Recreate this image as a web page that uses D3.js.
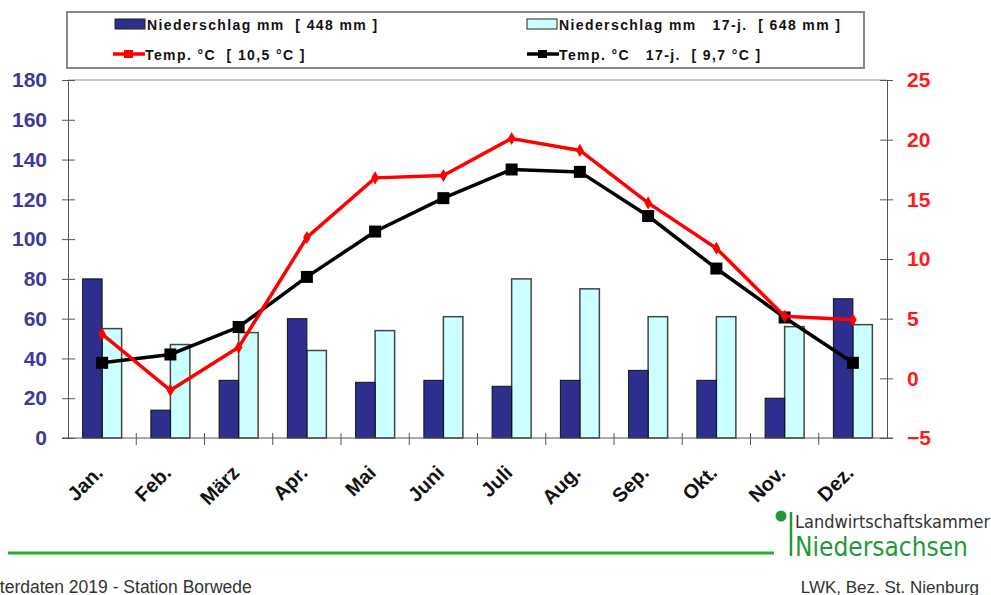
<!DOCTYPE html>
<html>
<head>
<meta charset="utf-8">
<script src="https://cdn.jsdelivr.net/npm/d3@7"></script>
<style>
    body { margin: 0; background: #fff; }
    svg { font-family: "Liberation Sans", Arial, sans-serif; }
</style>
</head>
<body>
<svg width="991" height="595"></svg>
<script>
    var months = ['Jan.', 'Feb.', 'März', 'Apr.', 'Mai', 'Juni', 'Juli', 'Aug.', 'Sep.', 'Okt.', 'Nov.', 'Dez.'];
    var rain2019 = [80, 14, 29, 60, 28, 29, 26, 29, 34, 29, 20, 70];
    var rainAvg = [55, 47, 53, 44, 54, 61, 80, 75, 61, 61, 56, 57];
    var temp2019 = [3.7, -1.0, 2.6, 11.8, 16.8, 17.0, 20.1, 19.1, 14.7, 10.9, 5.2, 4.9];
    var tempAvg = [1.3, 2.0, 4.3, 8.5, 12.3, 15.1, 17.5, 17.3, 13.6, 9.2, 5.1, 1.3];
    var rainTicks = [0, 20, 40, 60, 80, 100, 120, 140, 160, 180];
    var tempTicks = [-5, 0, 5, 10, 15, 20, 25];

(function () {
    var svg = d3.select('svg');
    var plotLeft = 68, plotRight = 887, plotTop = 80, plotBottom = 438;

    var x = d3.scaleBand().domain(months).range([plotLeft, plotRight]);
    var inner = d3.scaleBand().domain(['a', 'b']).range([0, x.bandwidth()]).paddingOuter(0.75).paddingInner(0);
    var yRain = d3.scaleLinear().domain([0, 180]).range([plotBottom, plotTop]);
    var yTemp = d3.scaleLinear().domain([-5, 25]).range([plotBottom, plotTop]);

    // plot frame top line
    svg.append('line')
        .attr('x1', plotLeft).attr('x2', plotRight).attr('y1', plotTop).attr('y2', plotTop)
        .attr('stroke', '#999').attr('stroke-width', 1);

    // bars
    var bars = svg.append('g');
    bars.selectAll('rect.avg')
        .data(rainAvg)
        .enter().append('rect')
        .attr('class', 'avg')
        .attr('x', function(d, i) { return x(months[i]) + inner('b'); })
        .attr('y', function(d) { return yRain(d); })
        .attr('width', inner.bandwidth())
        .attr('height', function(d) { return plotBottom - yRain(d); })
        .attr('fill', '#ccffff').attr('stroke', '#444').attr('stroke-width', 1.5);
    bars.selectAll('rect.cur')
        .data(rain2019)
        .enter().append('rect')
        .attr('class', 'cur')
        .attr('x', function(d, i) { return x(months[i]) + inner('a'); })
        .attr('y', function(d) { return yRain(d); })
        .attr('width', inner.bandwidth())
        .attr('height', function(d) { return plotBottom - yRain(d); })
        .attr('fill', '#2e2e8f').attr('stroke', '#111').attr('stroke-width', 1);

    // axes
    var axisLeft = svg.append('g').attr('transform', 'translate(' + plotLeft + ',0)')
        .call(d3.axisLeft(yRain).tickValues(rainTicks).tickSize(0).tickPadding(21));
    axisLeft.select('.domain').attr('stroke', '#555');
    axisLeft.selectAll('.tick').append('line')
        .attr('x1', -6).attr('x2', 7).attr('stroke', '#555');
    axisLeft.selectAll('text')
        .attr('fill', '#3b3b9c').attr('font-size', 21).attr('font-weight', 'bold');

    var axisRight = svg.append('g').attr('transform', 'translate(' + plotRight + ',0)')
        .call(d3.axisRight(yTemp).tickValues(tempTicks).tickSize(0).tickPadding(20));
    axisRight.select('.domain').attr('stroke', '#555');
    axisRight.selectAll('.tick').append('line')
        .attr('x1', -7).attr('x2', 6).attr('stroke', '#555');
    axisRight.selectAll('text')
        .attr('fill', '#ff1a1a').attr('font-size', 21).attr('font-weight', 'bold');

    var axisBottom = svg.append('g').attr('transform', 'translate(0,' + plotBottom + ')');
    axisBottom.append('line')
        .attr('x1', plotLeft - 6).attr('x2', plotRight + 6).attr('stroke', '#555');
    axisBottom.selectAll('line.tk')
        .data(months.slice(1))
        .enter().append('line')
        .attr('class', 'tk')
        .attr('x1', function(d) { return x(d); }).attr('x2', function(d) { return x(d); })
        .attr('y1', -5).attr('y2', 7).attr('stroke', '#555');
    axisBottom.selectAll('text')
        .data(months)
        .enter().append('text')
        .attr('transform', function(d) {
            return 'translate(' + (x(d) + x.bandwidth() / 2 + 2) + ',36) rotate(-45)';
        })
        .attr('text-anchor', 'end')
        .attr('font-size', 20).attr('font-weight', 'bold').attr('fill', '#111')
        .text(function(d) { return d; });

    // temperature lines
    var cx = function(d, i) { return x(months[i]) + x.bandwidth() / 2; };
    var tempLine = d3.line().x(cx).y(function(d) { return yTemp(d); });

    svg.append('path').datum(tempAvg)
        .attr('d', tempLine).attr('fill', 'none')
        .attr('stroke', '#000').attr('stroke-width', 3.5);
    svg.selectAll('rect.mk')
        .data(tempAvg)
        .enter().append('rect')
        .attr('class', 'mk')
        .attr('x', function(d, i) { return cx(d, i) - 6; })
        .attr('y', function(d) { return yTemp(d) - 6; })
        .attr('width', 12).attr('height', 12).attr('fill', '#000');

    svg.append('path').datum(temp2019)
        .attr('d', tempLine).attr('fill', 'none')
        .attr('stroke', '#ff0000').attr('stroke-width', 3.5);
    svg.selectAll('path.dm')
        .data(temp2019)
        .enter().append('path')
        .attr('class', 'dm')
        .attr('d', d3.symbol().type(d3.symbolDiamond).size(50))
        .attr('transform', function(d, i) { return 'translate(' + cx(d, i) + ',' + yTemp(d) + ')'; })
        .attr('fill', '#ff0000');

    // legend
    var legend = svg.append('g');
    legend.append('rect')
        .attr('x', 67).attr('y', 12).attr('width', 797).attr('height', 56)
        .attr('fill', '#fff').attr('stroke', '#888').attr('stroke-width', 2);

    var legendItems = [
        { x: 115, y: 24, type: 'bar', fill: '#2e2e8f', label: 'Niederschlag mm  [ 448 mm ]' },
        { x: 527, y: 24, type: 'bar', fill: '#ccffff', label: 'Niederschlag mm   17-j.  [ 648 mm ]' },
        { x: 113, y: 54, type: 'line', fill: '#ff0000', label: 'Temp. °C  [ 10,5 °C ]' },
        { x: 527, y: 54, type: 'line', fill: '#000', label: 'Temp. °C   17-j.  [ 9,7 °C ]' }
    ];
    legendItems.forEach(function(it) {
        if (it.type === 'bar') {
            legend.append('rect')
                .attr('x', it.x).attr('y', it.y - 5).attr('width', 30).attr('height', 10)
                .attr('fill', it.fill).attr('stroke', '#222').attr('stroke-width', 1);
        } else {
            legend.append('line')
                .attr('x1', it.x).attr('x2', it.x + 32).attr('y1', it.y).attr('y2', it.y)
                .attr('stroke', it.fill).attr('stroke-width', 3.5);
            legend.append('rect')
                .attr('x', it.x + 11).attr('y', it.y - 4).attr('width', 9).attr('height', 8)
                .attr('fill', it.fill);
        }
        legend.append('text')
            .attr('x', it.x + 32).attr('y', it.y + 6)
            .attr('font-size', 14).attr('font-weight', 'bold').attr('fill', '#111')
            .attr('letter-spacing', 1.4)
            .style('white-space', 'pre')
            .text(it.label);
    });

    // footer
    var green = '#1f9a3a';
    svg.append('line')
        .attr('x1', 8).attr('x2', 774).attr('y1', 553).attr('y2', 553)
        .attr('stroke', '#2eaa2e').attr('stroke-width', 3);
    svg.append('circle')
        .attr('cx', 781).attr('cy', 516).attr('r', 5.5).attr('fill', green);
    svg.append('line')
        .attr('x1', 791).attr('x2', 791).attr('y1', 512).attr('y2', 556)
        .attr('stroke', green).attr('stroke-width', 2.5);
    svg.append('text')
        .attr('x', 795).attr('y', 528)
        .attr('font-size', 18).attr('fill', '#333')
        .attr('font-family', '"DejaVu Sans Condensed", "Liberation Sans Narrow", sans-serif')
        .text('Landwirtschaftskammer');
    svg.append('text')
        .attr('x', 795).attr('y', 556)
        .attr('font-size', 26).attr('fill', green)
        .attr('font-family', '"DejaVu Sans Condensed", "Liberation Sans Narrow", sans-serif')
        .text('Niedersachsen');
    svg.append('text')
        .attr('x', -31).attr('y', 593)
        .attr('font-size', 17.5).attr('fill', '#333')
        .text('Wetterdaten 2019 - Station Borwede');
    svg.append('text')
        .attr('x', 979).attr('y', 593).attr('text-anchor', 'end')
        .attr('font-size', 17).attr('fill', '#333')
        .text('LWK, Bez. St. Nienburg');
})();
</script>
</body>
</html>
